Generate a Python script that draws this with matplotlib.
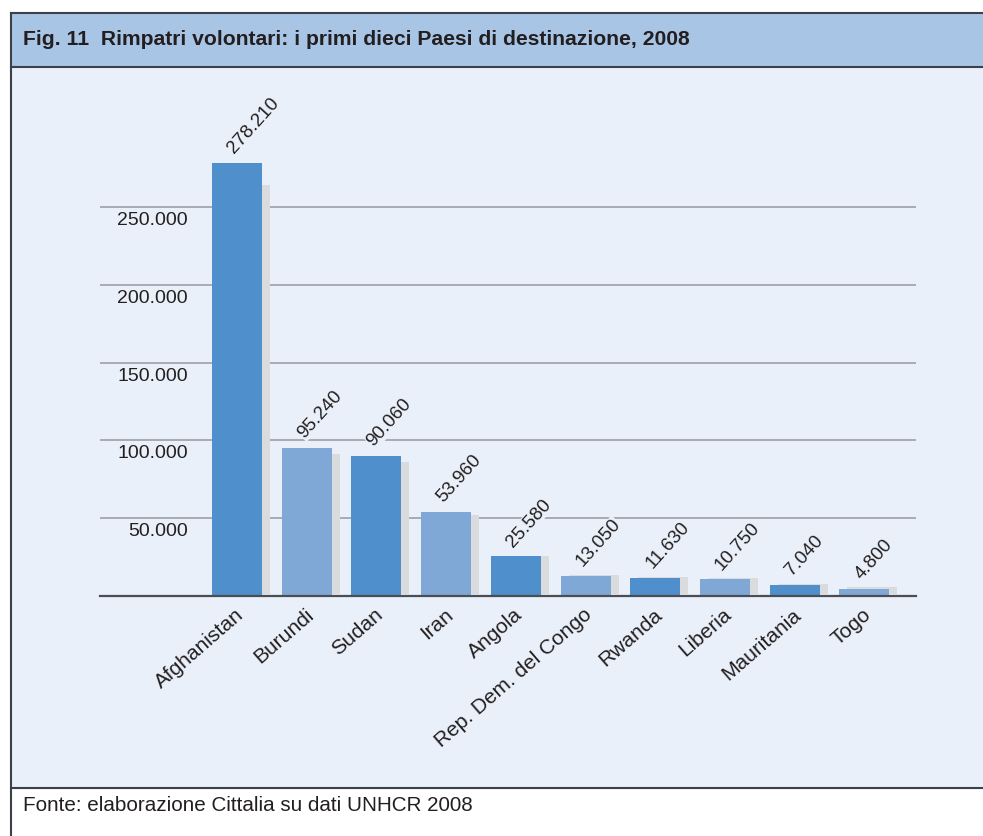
import matplotlib
matplotlib.use("Agg")
import matplotlib.pyplot as plt
from matplotlib.patches import Rectangle
from matplotlib.lines import Line2D
import matplotlib.transforms as mtransforms

paesi = ["Afghanistan", "Burundi", "Sudan", "Iran", "Angola",
         "Rep. Dem. del Congo", "Rwanda", "Liberia", "Mauritania", "Togo"]
rimpatri = [278210, 95240, 90060, 53960, 25580, 13050, 11630, 10750, 7040, 4800]
etichette = ["278.210", "95.240", "90.060", "53.960", "25.580",
             "13.050", "11.630", "10.750", "7.040", "4.800"]
yticks = [50000, 100000, 150000, 200000, 250000]
ytick_labels = ["50.000", "100.000", "150.000", "200.000", "250.000"]

titolo = "Fig. 11  Rimpatri volontari: i primi dieci Paesi di destinazione, 2008"
fonte = "Fonte: elaborazione Cittalia su dati UNHCR 2008"

W, H = 983, 836
blu_scuro = "#4f8fcb"
blu_chiaro = "#80a8d7"
ombra = "#d9dbdd"
sfondo = "#eaf0f9"
testata = "#a9c5e6"
bordo = "#3c4049"
testo = "#231f20"

plt.rcParams["font.family"] = ["Liberation Sans", "DejaVu Sans"]

fig = plt.figure(figsize=(W / 100, H / 100), dpi=100, facecolor="white")


def fx(px):
    return px / W


def fy(py):
    return 1 - py / H


# riquadro: testata, area grafico, linee di bordo
fig.add_artist(Rectangle((fx(11), fy(67)), 1, fy(13) - fy(67),
                         transform=fig.transFigure, color=testata, zorder=0))
fig.add_artist(Rectangle((fx(11), fy(788)), 1, fy(67) - fy(788),
                         transform=fig.transFigure, color=sfondo, zorder=0))
for y in (13, 67, 788):
    fig.add_artist(Line2D([fx(11), 1], [fy(y), fy(y)], transform=fig.transFigure,
                          color=bordo, lw=1.5, zorder=1))
fig.add_artist(Line2D([fx(11), fx(11)], [fy(13), 0], transform=fig.transFigure,
                      color=bordo, lw=1.5, zorder=1))

fig.text(fx(23), fy(45), titolo, fontsize=15.25, fontweight="bold", color=testo,
         va="baseline")
fig.text(fx(23), fy(811), fonte, fontsize=14.9, color=testo, va="baseline")

# area degli assi
ax = fig.add_axes([fx(100), fy(596), fx(916) - fx(100), fy(90) - fy(596)])
ax.set_facecolor("none")
passo = 69.7
ax.set_xlim(-(237 - 100) / passo, 9 + (916 - 864.3) / passo)
ax.set_ylim(0, 506 / 389 * 250000)
for s in ax.spines.values():
    s.set_visible(False)
ax.set_xticks([])
ax.set_yticks([])

for v in yticks:
    ax.axhline(v, color="#9c9fa4", lw=1.2, zorder=1)
ax.axhline(0, color="#4a4d54", lw=1.6, zorder=5, clip_on=False)

xs = list(range(len(paesi)))
larg = 50 / passo
spost = 8 / passo
colori = [blu_scuro if i % 2 == 0 else blu_chiaro for i in xs]

ax.bar([x + spost for x in xs], [v * 0.945 for v in rimpatri], width=larg,
       bottom=1300, color=ombra, zorder=2)
ax.bar(xs, rimpatri, width=larg, color=colori, zorder=3)

trans_y = mtransforms.blended_transform_factory(ax.transAxes, ax.transData)
for v, lab in zip(yticks, ytick_labels):
    ax.annotate(lab, (88 / 816, v), xycoords=trans_y, xytext=(0, -5),
                textcoords="offset pixels", ha="right", va="top",
                fontsize=14, color=testo)

for x, v, lab in zip(xs, rimpatri, etichette):
    ax.annotate(lab, (x, v), xytext=(0, 6), textcoords="offset pixels",
                ha="left", va="bottom", rotation=48, rotation_mode="anchor",
                fontsize=13.5, color=testo, zorder=6,
                bbox=dict(facecolor=sfondo, edgecolor="none", pad=0.1))

for x, p in zip(xs, paesi):
    ax.annotate(p, (x, 0), xytext=(-2, -9), textcoords="offset pixels",
                ha="right", va="top", rotation=41, rotation_mode="anchor",
                fontsize=15, color=testo, annotation_clip=False)

fig.savefig("out.png", dpi=100, facecolor="white")
